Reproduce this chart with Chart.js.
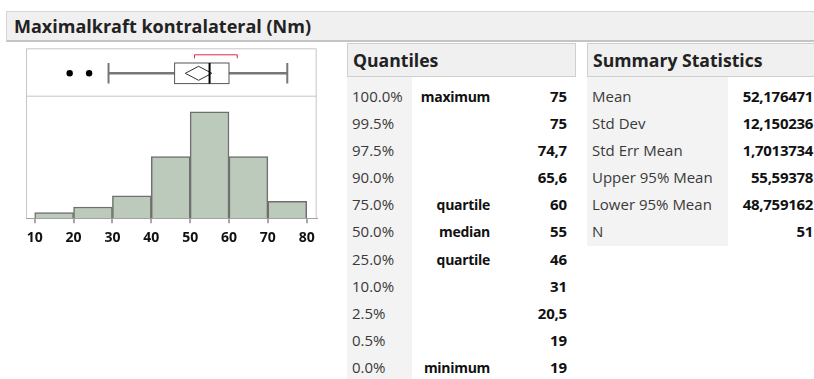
<!DOCTYPE html>
<html>
<head>
<meta charset="utf-8">
<script src="https://cdn.jsdelivr.net/npm/chart.js@4.4.0/dist/chart.umd.min.js"></script>
<style>
  body { margin: 0; width: 814px; height: 379px; background: #fff; position: relative; overflow: hidden;
         font-family: "Open Sans", sans-serif; color: #333; }
  #title { position: absolute; left: 6px; top: 11px; right: 0; height: 28px; background: #f0f0f0;
           border: 1px solid #d6d6d6; border-bottom: 2px solid #c4c4c4; border-right: none;
           font-weight: bold; font-size: 18px; line-height: 28px; padding-left: 7px; color: #222; }
  #histWrap { position: absolute; left: 0; top: 40px; width: 340px; height: 230px; }
  .panel { position: absolute; top: 43px; }
  .head { height: 32px; background: #f0f0f0; border: 1px solid #cfcfcf; font-weight: bold; font-size: 17.6px;
          line-height: 32px; padding-left: 5px; color: #222; }
  .body { padding-top: 6px; }
  .row { display: flex; height: 27.1px; line-height: 27.1px; font-size: 15px; white-space: nowrap; }
  .lab { padding-left: 5px; box-sizing: border-box; color: #3a3a3a; }
  .mid { text-align: right; font-weight: bold; font-size: 14px; color: #111; letter-spacing: -0.3px; }
  .val { text-align: right; font-weight: bold; font-size: 15px; color: #111; letter-spacing: -0.3px; }
</style>
</head>
<body>
<div id="title">Maximalkraft kontralateral (Nm)</div>
<div id="histWrap"><canvas id="hist"></canvas></div>
<div class="panel" id="quant" style="left:347px; width:229px;">
  <div class="head">Quantiles</div>
  <div class="body" id="quantBody" style="background: linear-gradient(to right, #f3f3f3 0 64.7px, transparent 64.7px);"></div>
</div>
<div class="panel" id="summ" style="left:587px; width:227px;">
  <div class="head" style="border-right:none;">Summary Statistics</div>
  <div class="body" id="summBody" style="background: linear-gradient(to right, #f3f3f3 0 141px, transparent 141px);"></div>
</div>
<script>
'use strict';

// histogram bins (Nm) and counts, N = 51
var binEdges = [10, 20, 30, 40, 50, 60, 70, 80];
var binCounts = [1, 2, 4, 11, 19, 11, 3];
var axisTicks = [10, 20, 30, 40, 50, 60, 70, 80];

// outlier box plot: lower whisker, Q1, median, Q3, upper whisker
var boxValues = [29, 46, 55, 60, 75];
var outliers = [19, 24];
var meanDiamond = [48.759162, 52.176471, 55.59378];
var shortestHalf = [51, 62];

// tables
var quantLevels = ['100.0%', '99.5%', '97.5%', '90.0%', '75.0%', '50.0%', '25.0%', '10.0%', '2.5%', '0.5%', '0.0%'];
var quantNames = ['maximum', '', '', '', 'quartile', 'median', 'quartile', '', '', '', 'minimum'];
var quantValues = ['75', '75', '74,7', '65,6', '60', '55', '46', '31', '20,5', '19', '19'];
var summLabels = ['Mean', 'Std Dev', 'Std Err Mean', 'Upper 95% Mean', 'Lower 95% Mean', 'N'];
var summValues = ['52,176471', '12,150236', '1,7013734', '55,59378', '48,759162', '51'];

var qb = document.getElementById('quantBody');
quantLevels.forEach(function(lv, i) {
	qb.innerHTML += '<div class="row"><div class="lab" style="width:64.7px">' + lv + '</div>' +
		'<div class="mid" style="width:78.3px">' + quantNames[i] + '</div>' +
		'<div class="val" style="width:76.7px">' + quantValues[i] + '</div></div>';
});
var sb = document.getElementById('summBody');
summLabels.forEach(function(lb, i) {
	sb.innerHTML += '<div class="row"><div class="lab" style="width:141px">' + lb + '</div>' +
		'<div class="val" style="width:85px">' + summValues[i] + '</div></div>';
});

var histData = binCounts.map(function(c, i) {
	return { x: (binEdges[i] + binEdges[i + 1]) / 2, y: c };
});

// box plot above the histogram, drawn on the same x scale
var boxPlotPlugin = {
	id: 'boxPlot',
	afterDraw: function(chart) {
		var ctx = chart.ctx;
		var xs = chart.scales.x;
		var area = chart.chartArea;
		var px = function(v) { return xs.getPixelForValue(v); };
		var top = area.top - 48.4;
		var cy = area.top - 23.4;
		var hh = 10.3;
		ctx.save();

		// frame and separator
		ctx.strokeStyle = '#c6c6c6';
		ctx.lineWidth = 1;
		ctx.beginPath();
		ctx.moveTo(area.left + 0.5, area.bottom);
		ctx.lineTo(area.left + 0.5, top + 0.5);
		ctx.lineTo(area.right - 0.5, top + 0.5);
		ctx.lineTo(area.right - 0.5, area.bottom);
		ctx.moveTo(area.left, area.top - 0.5);
		ctx.lineTo(area.right, area.top - 0.5);
		ctx.stroke();

		// whiskers
		ctx.strokeStyle = '#777';
		ctx.lineWidth = 2.5;
		ctx.beginPath();
		ctx.moveTo(px(boxValues[0]), cy);
		ctx.lineTo(px(boxValues[1]), cy);
		ctx.moveTo(px(boxValues[3]), cy);
		ctx.lineTo(px(boxValues[4]), cy);
		ctx.stroke();
		ctx.lineWidth = 2;
		ctx.beginPath();
		ctx.moveTo(px(boxValues[0]), cy - hh);
		ctx.lineTo(px(boxValues[0]), cy + hh);
		ctx.moveTo(px(boxValues[4]), cy - hh);
		ctx.lineTo(px(boxValues[4]), cy + hh);
		ctx.stroke();

		// box
		ctx.fillStyle = '#fff';
		ctx.fillRect(px(boxValues[1]), cy - hh, px(boxValues[3]) - px(boxValues[1]), 2 * hh);
		ctx.strokeStyle = '#555';
		ctx.lineWidth = 1;
		ctx.strokeRect(px(boxValues[1]), cy - hh, px(boxValues[3]) - px(boxValues[1]), 2 * hh);

		// mean diamond
		ctx.strokeStyle = '#333';
		ctx.beginPath();
		ctx.moveTo(px(meanDiamond[0]), cy);
		ctx.lineTo(px(meanDiamond[1]), cy - 7);
		ctx.lineTo(px(meanDiamond[2]), cy);
		ctx.lineTo(px(meanDiamond[1]), cy + 7);
		ctx.closePath();
		ctx.stroke();

		// median
		ctx.strokeStyle = '#000';
		ctx.lineWidth = 2;
		ctx.beginPath();
		ctx.moveTo(px(boxValues[2]), cy - hh);
		ctx.lineTo(px(boxValues[2]), cy + hh);
		ctx.stroke();

		// outliers
		ctx.fillStyle = '#000';
		outliers.forEach(function(v) {
			ctx.beginPath();
			ctx.arc(px(v), cy, 3.2, 0, Math.PI * 2);
			ctx.fill();
		});

		// shortest half bracket
		ctx.strokeStyle = '#e0283c';
		ctx.lineWidth = 1;
		ctx.beginPath();
		ctx.moveTo(px(shortestHalf[0]) + 0.5, top + 10);
		ctx.lineTo(px(shortestHalf[0]) + 0.5, top + 6.5);
		ctx.lineTo(px(shortestHalf[1]) + 0.5, top + 6.5);
		ctx.lineTo(px(shortestHalf[1]) + 0.5, top + 10);
		ctx.stroke();
		ctx.restore();
	}
};

var ctx = document.getElementById('hist').getContext('2d');
var chart = new Chart(ctx, {
	type: 'bar',
	data: {
		datasets: [{
			data: histData,
			backgroundColor: '#bccabb',
			borderColor: '#6f6f6f',
			borderWidth: 1.5,
			borderSkipped: 'bottom',
			barPercentage: 1,
			categoryPercentage: 1
		}]
	},
	options: {
		responsive: true,
		maintainAspectRatio: false,
		animation: false,
		layout: { padding: { left: 26, right: 23.3, top: 56.7, bottom: 18 } },
		plugins: { legend: { display: false }, tooltip: { enabled: false } },
		scales: {
			x: {
				type: 'linear',
				offset: false,
				min: 7.76,
				max: 82.57,
				afterBuildTicks: function(axis) {
					axis.ticks = axisTicks.map(function(v) { return { value: v }; });
				},
				grid: { offset: false, drawOnChartArea: false, drawTicks: true, tickLength: 5, color: '#a8a8a8', lineWidth: 2 },
				border: { display: true, color: '#a0a0a0', width: 1 },
				ticks: {
					autoSkip: false,
					maxRotation: 0,
					padding: 6,
					color: '#111',
					font: { family: 'Open Sans', weight: 'bold', size: 14 }
				}
			},
			y: { display: false, min: 0, max: 21.7 }
		}
	},
	plugins: [boxPlotPlugin]
});
</script>
</body>
</html>
